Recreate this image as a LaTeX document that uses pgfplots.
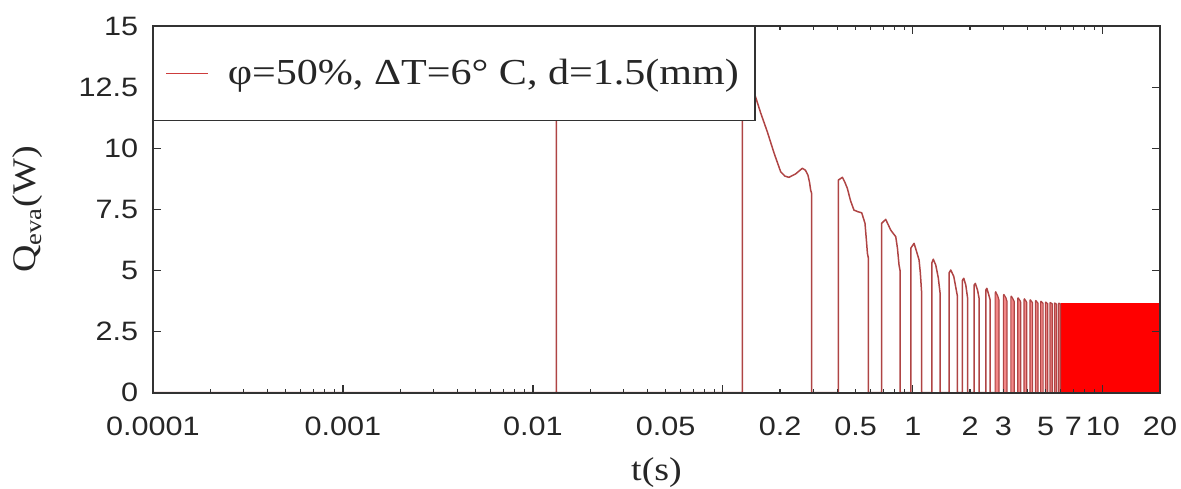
\documentclass[border=0pt]{standalone}
\usepackage{pgfplots}
\pgfplotsset{compat=1.18}
\usepackage{pgfplotstable}
\usepackage{fontspec}
\setmainfont{Liberation Serif}[FakeStretch=1.15]
\newfontfamily\tickfont{Liberation Sans}[FakeStretch=1.15]
\definecolor{pulse}{RGB}{175,68,68}
\definecolor{legline}{RGB}{205,60,60}
\definecolor{axisgray}{RGB}{50,50,50}
\definecolor{pinkfill}{RGB}{242,135,135}

% early pulses: t (s), Q (W)
\pgfplotstableread{
t q
0.0001 0
0.0133 0
0.0133 13
0.0133 0
0.1265 0
0.1265 13.6
0.1457 12.31
0.1580 11.45
0.1714 10.67
0.1860 9.80
0.2014 9.04
0.2120 8.86
0.2227 8.81
0.2415 8.95
0.2620 9.18
0.2720 9.10
0.2804 8.90
0.2860 8.60
0.2897 8.29
0.2933 8.15
0.2933 0
0.4055 0
0.4055 8.70
0.4256 8.81
0.4380 8.62
0.4520 8.36
0.4700 7.85
0.4898 7.47
0.5150 7.40
0.5380 7.36
0.5598 6.93
0.5700 6.20
0.5765 5.70
0.5834 5.50
0.5834 0
0.6855 0
0.6855 6.93
0.7198 7.09
0.7650 6.65
0.8128 6.38
0.8300 5.90
0.8458 5.22
0.8562 5.00
0.8562 0
0.9748 0
0.9748 5.91
1.0147 6.11
1.0484 5.75
1.0782 5.43
1.0950 4.90
1.1098 4.20
1.1120 4.10
1.1120 0
1.2578 0
1.2578 5.30
1.2809 5.46
1.3203 5.22
1.3610 4.70
1.3911 4.07
1.3911 0
1.5509 0
1.5509 4.90
1.5834 5.02
1.6427 4.75
1.7179 3.93
1.7179 0
1.8249 0
1.8249 4.60
1.8541 4.68
1.9000 4.40
1.9394 3.90
1.9394 0
2.1013 0
2.1013 4.40
2.1323 4.47
2.1900 4.20
2.2329 3.85
2.2329 0
2.4218 0
2.4218 4.20
2.4515 4.27
2.5000 4.05
2.5508 3.80
2.5508 0
2.7110 0
}\early

% late pulses
\pgfplotstableread{
t q
2.711 0
2.711 4.08
2.730 4.13
2.800 3.95
2.844 3.78
2.844 0
2.996 0
2.996 3.98
3.015 4.02
3.090 3.88
3.130 3.74
3.130 0
3.281 0
3.281 3.92
3.300 3.95
3.370 3.83
3.420 3.72
3.420 0
3.566 0
3.566 3.86
3.585 3.88
3.660 3.78
3.700 3.70
3.700 0
3.851 0
3.851 3.82
3.870 3.84
3.940 3.75
3.980 3.69
3.980 0
4.136 0
4.136 3.78
4.155 3.80
4.230 3.72
4.270 3.68
4.270 0
4.421 0
4.421 3.75
4.440 3.77
4.520 3.70
4.560 3.66
4.560 0
4.706 0
4.706 3.72
4.725 3.74
4.810 3.68
4.850 3.65
4.850 0
4.991 0
4.991 3.70
5.010 3.71
5.090 3.66
5.130 3.64
5.130 0
5.276 0
5.276 3.68
5.300 3.69
5.380 3.65
5.420 3.64
5.420 0
5.561 0
5.561 3.66
5.580 3.67
5.660 3.64
5.700 3.63
5.700 0
5.846 0
5.846 3.65
5.870 3.66
5.950 3.64
5.990 3.63
5.990 0
6.050 0
}\late

% dense oscillation region (appears solid)
\pgfplotstableread{
t q
6.05 0
6.05 3.64
20 3.64
20 0
}\solid

\begin{document}
\begin{tikzpicture}
\begin{axis}[
  name=ax,
  scale only axis,
  width=503.5pt, height=183.35pt,
  xmode=log, xmin=0.0001, xmax=20, ymin=0, ymax=15,
  axis on top,
  axis line style={axisgray, line width=0.8pt},
  tick style={axisgray, line width=0.6pt},
  tick align=inside,
  major tick length=4pt, minor tick length=2pt,
  xtick={0.0001,0.001,0.01,0.1,1,10},
  xticklabels={0.0001,0.001,0.01,,1,10},
  extra x ticks={0.05,0.2,0.5,2,3,5,7,20},
  extra x tick labels={0.05,0.2,0.5,2,3,5,7,20},
  extra x tick style={major tick length=0pt},
  minor xtick={0.0002,0.0003,0.0004,0.0005,0.0006,0.0007,0.0008,0.0009,
    0.002,0.003,0.004,0.005,0.006,0.007,0.008,0.009,
    0.02,0.03,0.04,0.05,0.06,0.07,0.08,0.09,
    0.2,0.3,0.4,0.5,0.6,0.7,0.8,0.9,
    2,3,4,5,6,7,8,9},
  ytick={0,2.5,5,7.5,10,12.5,15},
  yticklabels={0,2.5,5,7.5,10,12.5,15},
  ticklabel style={font=\tickfont\fontsize{13.3}{15}\selectfont, text=black!85},
  xticklabel style={yshift=-8.5pt},
  yticklabel style={xshift=-3.9pt},
  xlabel={t(s)},
  ylabel={Q\textsubscript{eva}(W)},
  label style={font=\fontsize{16.5}{18}\selectfont, text=black!85},
  xlabel style={at={(axis description cs:0.5,-0.218)}, anchor=center},
  ylabel style={at={(axis description cs:-0.1241,0.5)}, anchor=center},
  legend style={at={(axis description cs:0,1)}, anchor=north west,
    draw=axisgray, line width=0.6pt, fill=white,
    inner xsep=6pt, inner ysep=14.3pt,
    font=\fontsize{18.3}{20}\selectfont, text=black!85,
    /tikz/every odd column/.append style={column sep=7.5pt}},
  legend cell align=left,
  legend image code/.code={\draw[legline, line width=0.6pt] (2pt,0pt) -- (23pt,0pt);},
]
\addplot[draw=none, fill=pinkfill, forget plot] table {\late};
\addplot[draw=red, fill=red, line width=0.4pt, forget plot] table {\solid};
\addplot[color=pulse, line width=0.75pt, line join=round] table {\early};
\addlegendentry{φ=50\%, ΔT=6° C, d=1.5(mm)}
\addplot[color=pulse, line width=0.6pt, line join=round, forget plot] table {\late};
\end{axis}
\pgfresetboundingbox
\path ([shift={(-76.5pt,-47.65pt)}]ax.south west) rectangle ([shift={(10.5pt,13pt)}]ax.north east);
\end{tikzpicture}
\end{document}
